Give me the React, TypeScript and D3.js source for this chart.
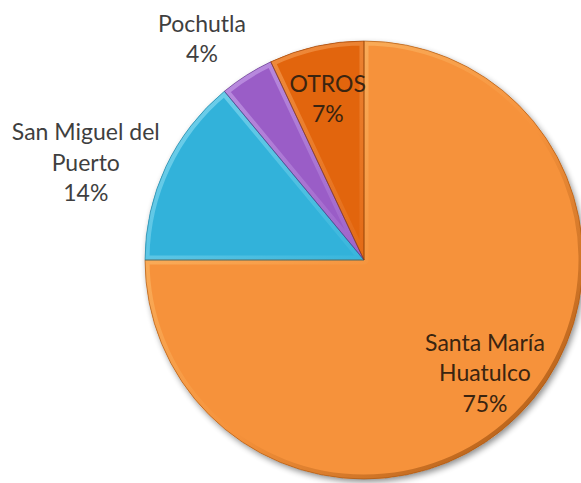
import React from "react";
import * as d3 from "d3";

const categories = ["Santa María Huatulco", "San Miguel del Puerto", "Pochutla", "OTROS"];
const values = [75, 14, 4, 7];
const labelLines = [
  ["Santa María", "Huatulco", "75%"],
  ["San Miguel del", "Puerto", "14%"],
  ["Pochutla", "4%"],
  ["OTROS", "7%"],
];
const colors = ["#F6923B", "#31B2DA", "#9A5DC7", "#E2650F"];
const lightEdge = ["#FCC070", "#7FD6EE", "#C39AE6", "#F49A4E"];
const darkEdge = ["#A2520F", "#1F7B99", "#5E3585", "#8F3C05"];

const W = 581;
const H = 483;
const cx = 364;
const cy = 260;
const R = 219;

// label placement: [angle offset in radians, radius factor]
const labelPlace: [number, number][] = [
  [-0.038, 0.753],
  [-0.101, 1.347],
  [-0.065, 1.255],
  [0.0, 0.758],
];

export default function App() {
  const pie = d3.pie<number>().sort(null).value((d) => d);
  const arcs = pie(values);
  const arc = d3.arc<d3.PieArcDatum<number>>().innerRadius(0).outerRadius(R);

  return (
    <svg width={W} height={H} style={{ position: "absolute", left: 0, top: 0 }}>
      <defs>
        <filter id="shadow" x="-20%" y="-20%" width="140%" height="140%">
          <feGaussianBlur in="SourceAlpha" stdDeviation="3" />
          <feOffset dx="2" dy="3" result="b" />
          <feComponentTransfer>
            <feFuncA type="linear" slope="0.45" />
          </feComponentTransfer>
          <feMerge>
            <feMergeNode />
            <feMergeNode in="SourceGraphic" />
          </feMerge>
        </filter>
        {arcs.map((a, i) => (
          <React.Fragment key={i}>
            <clipPath id={`clip${i}`}>
              <path d={arc(a) || ""} />
            </clipPath>
            <linearGradient
              id={`bev${i}`}
              gradientUnits="userSpaceOnUse"
              x1={-R}
              y1={-R}
              x2={R}
              y2={R}
            >
              <stop offset="0%" stopColor={lightEdge[i]} />
              <stop offset="55%" stopColor={colors[i]} />
              <stop offset="100%" stopColor={darkEdge[i]} />
            </linearGradient>
          </React.Fragment>
        ))}
      </defs>
      <g transform={`translate(${cx},${cy})`}>
        <g filter="url(#shadow)">
          {arcs.map((a, i) => (
            <path key={i} d={arc(a) || ""} fill={colors[i]} />
          ))}
        </g>
        {arcs.map((a, i) => (
          <path
            key={"b" + i}
            d={arc(a) || ""}
            fill="none"
            stroke={`url(#bev${i})`}
            strokeWidth={9}
            strokeLinejoin="round"
            clipPath={`url(#clip${i})`}
          />
        ))}
        {arcs.map((a, i) => (
          <path
            key={"s" + i}
            d={arc(a) || ""}
            fill="none"
            stroke={darkEdge[i]}
            strokeOpacity={0.6}
            strokeWidth={1}
          />
        ))}
        {arcs.map((a, i) => {
          const mid = (a.startAngle + a.endAngle) / 2 + labelPlace[i][0];
          const r = R * labelPlace[i][1];
          const x = Math.sin(mid) * r;
          const y = -Math.cos(mid) * r;
          const lines = labelLines[i];
          const lh = 30.5;
          const inside = i === 0 || i === 3;
          return (
            <text
              key={"t" + i}
              x={x}
              y={y - ((lines.length - 1) * lh) / 2}
              textAnchor="middle"
              dominantBaseline="central"
              fontFamily="Lato, 'Open Sans', sans-serif"
              fontSize={23}
              fill={inside ? "#3a2410" : "#3f3f3f"}
            >
              {lines.map((l, j) => (
                <tspan key={j} x={x} dy={j === 0 ? 0 : lh}>
                  {l}
                </tspan>
              ))}
            </text>
          );
        })}
      </g>
    </svg>
  );
}
